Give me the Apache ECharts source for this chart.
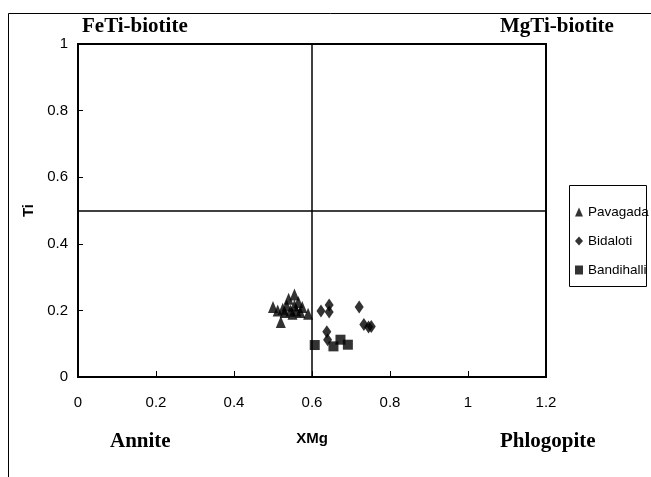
<!DOCTYPE html>
<html>
<head>
<meta charset="utf-8">
<script src="https://cdn.jsdelivr.net/npm/echarts@6/dist/echarts.min.js"></script>
<style>
  html, body { margin: 0; padding: 0; background: #fff; }
  #chart { width: 651px; height: 477px; }
</style>
</head>
<body>
<div id="chart"></div>
<script>
// biotite XMg vs Ti
var pavagada = [
  [0.500, 0.210], [0.512, 0.200], [0.520, 0.165], [0.525, 0.205],
  [0.530, 0.195], [0.535, 0.215], [0.540, 0.235], [0.545, 0.200],
  [0.550, 0.190], [0.555, 0.248], [0.555, 0.215], [0.560, 0.200],
  [0.565, 0.225], [0.570, 0.195], [0.575, 0.210], [0.590, 0.190]
];
var bidaloti = [
  [0.623, 0.198], [0.644, 0.216], [0.644, 0.195], [0.638, 0.136],
  [0.640, 0.112], [0.721, 0.210], [0.733, 0.158], [0.745, 0.150],
  [0.752, 0.152]
];
var bandihalli = [
  [0.607, 0.096], [0.655, 0.092], [0.673, 0.112], [0.692, 0.097]
];
var xTicks = [0, 0.2, 0.4, 0.6, 0.8, 1, 1.2];
var yTicks = [0, 0.2, 0.4, 0.6, 0.8, 1];
var divX = 0.6;
var divY = 0.5;

var chart = echarts.init(document.getElementById("chart"));
var sans = "'Liberation Sans', Arial, sans-serif";
var serif = "'Liberation Serif', 'Times New Roman', serif";
var black = "#000";

var option = {
  animation: false,
  backgroundColor: "#fff",
  grid: {
    left: 78,
    right: 105,
    top: 44,
    bottom: 100,
    show: true,
    borderColor: black,
    borderWidth: 2,
  },
  xAxis: {
    type: "value",
    min: xTicks[0],
    max: xTicks[xTicks.length - 1],
    interval: 0.2,
    name: "XMg",
    nameLocation: "middle",
    nameGap: 54,
    nameTextStyle: { color: black, fontSize: 15, fontWeight: "bold", fontFamily: sans },
    axisLine: { show: true, lineStyle: { color: black, width: 2 } },
    axisTick: { show: true, inside: true, length: 6, lineStyle: { color: black, width: 1 } },
    axisLabel: { color: black, fontSize: 15, fontFamily: sans, margin: 18 },
    splitLine: { show: false },
  },
  yAxis: {
    type: "value",
    min: yTicks[0],
    max: yTicks[yTicks.length - 1],
    interval: 0.2,
    name: "Ti",
    nameLocation: "middle",
    nameGap: 35,
    nameTextStyle: { color: black, fontSize: 15, fontWeight: "bold", fontFamily: sans },
    axisLine: { show: true, lineStyle: { color: black, width: 2 } },
    axisTick: { show: true, inside: true, length: 5, lineStyle: { color: black, width: 1 } },
    axisLabel: { color: black, fontSize: 15, fontFamily: sans, margin: 10 },
    splitLine: { show: false },
  },
  legend: {
    orient: "vertical",
    left: 570,
    top: 200,
    itemGap: 15,
    itemWidth: 8,
    itemHeight: 9,
    textStyle: { color: black, fontSize: 13.5, fontFamily: sans },
    data: ["Pavagada", "Bidaloti", "Bandihalli"],
  },
  graphic: [
    {
      type: "rect",
      shape: { x: 8.5, y: 13.5, width: 660, height: 480 },
      style: { fill: "none", stroke: black, lineWidth: 1 },
      silent: true,
      z: -1,
    },
    {
      type: "rect",
      shape: { x: 569.5, y: 185.5, width: 77, height: 101 },
      style: { fill: "#fff", stroke: black, lineWidth: 1 },
      silent: true,
      z: 0,
    },
    {
      type: "text", left: 82, top: 16,
      style: { text: "FeTi-biotite", fill: black, font: "bold 21px " + serif },
    },
    {
      type: "text", left: 500, top: 16,
      style: { text: "MgTi-biotite", fill: black, font: "bold 21px " + serif },
    },
    {
      type: "text", left: 110, top: 431,
      style: { text: "Annite", fill: black, font: "bold 21px " + serif },
    },
    {
      type: "text", left: 500, top: 431,
      style: { text: "Phlogopite", fill: black, font: "bold 21px " + serif },
    },
  ],
  series: [
    {
      name: "Pavagada",
      type: "scatter",
      symbol: "triangle",
      symbolSize: [10, 12],
      itemStyle: { color: black },
      data: pavagada,
      markLine: {
        silent: true,
        symbol: "none",
        label: { show: false },
        lineStyle: { color: black, type: "solid", width: 1.5 },
        data: [{ xAxis: divX }, { yAxis: divY }],
      },
    },
    {
      name: "Bidaloti",
      type: "scatter",
      symbol: "diamond",
      symbolSize: [9, 13],
      itemStyle: { color: black },
      data: bidaloti,
    },
    {
      name: "Bandihalli",
      type: "scatter",
      symbol: "rect",
      symbolSize: 10,
      itemStyle: { color: black },
      data: bandihalli,
    },
  ],
};

chart.setOption(option);
</script>
</body>
</html>
